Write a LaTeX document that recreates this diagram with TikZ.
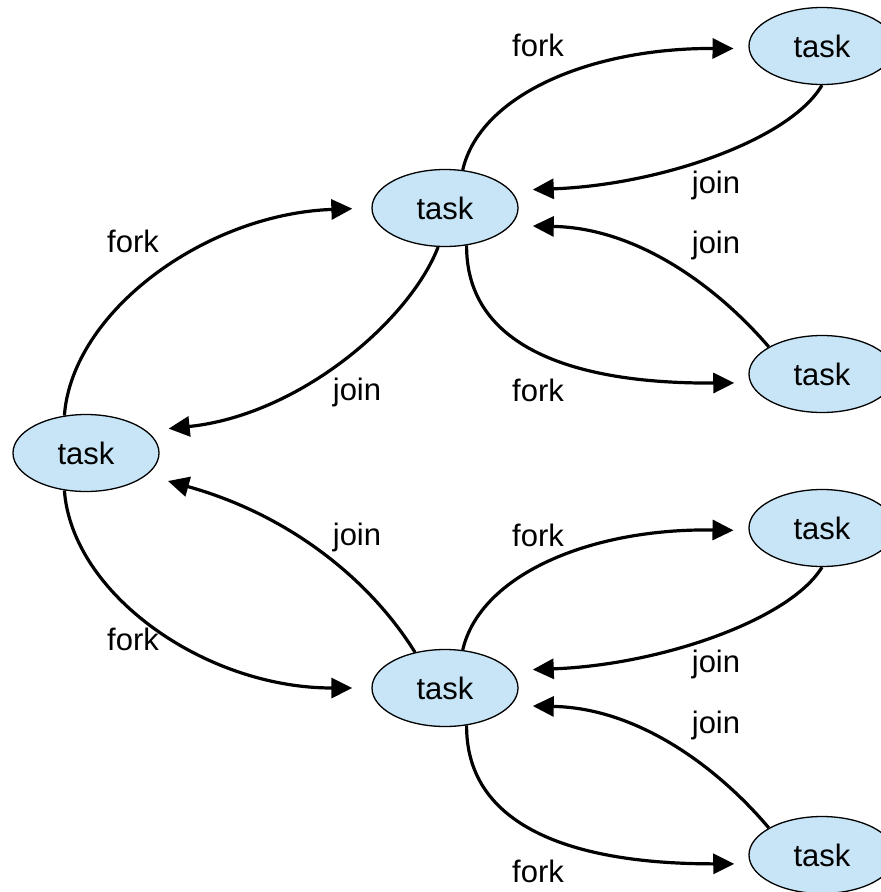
\documentclass[tikz,border=0pt]{standalone}
\usepackage{fontspec}
\setmainfont{Liberation Sans}
\usetikzlibrary{arrows.meta,shapes.geometric}
\definecolor{taskfill}{RGB}{199,229,246}
\begin{document}
\begin{tikzpicture}[x=1pt,y=-1pt,
  task/.style={ellipse,draw,line width=1.3pt,fill=taskfill,minimum width=146pt,minimum height=77pt,inner sep=0pt,font=\fontsize{31}{36}\selectfont},
  lbl/.style={font=\fontsize{31}{36}\selectfont,inner sep=0pt,anchor=base},
  conn/.style={line width=3.2pt,-{Triangle[length=21pt,width=20pt]}}]
\useasboundingbox (0,0) rectangle (881,892);
% tasks
\node[task] (l)  at (86,453) {task};
\node[task] (mt) at (445,208) {task};
\node[task] (mb) at (445,688) {task};
\node[task] (tr) at (822,46) {task};
\node[task] (rm) at (822,374) {task};
\node[task] (r3) at (822,528) {task};
\node[task] (r4) at (822,855) {task};
% left group
\draw[conn, shorten >=19pt] (l.120) .. controls (72,312) and (205,214) .. (mt.west);
\draw[conn, shorten >=22pt] (mt.-100) .. controls (410,320) and (300,415) .. (l.20);
\draw[conn, shorten >=22pt] (mb.130) .. controls (370,580) and (290,515) .. (l.-20);
\draw[conn, shorten >=19pt] (l.-120) .. controls (72,594) and (205,688) .. (mb.west);
% top right group
\draw[conn, shorten >=15pt] (mt.65) .. controls (480,95) and (590,48) .. (tr.182);
\draw[conn, shorten >=22pt] (tr.south) .. controls (790,140) and (660,185) .. (mt.15);
\draw[conn, shorten >=22pt] (rm.153) .. controls (720,290) and (640,228) .. (mt.-15);
\draw[conn, shorten >=16pt] (mt.-60) .. controls (466,340) and (560,384) .. (rm.187);
% bottom right group
\draw[conn, shorten >=15pt] (mb.65) .. controls (480,575) and (590,528) .. (r3.182);
\draw[conn, shorten >=22pt] (r3.south) .. controls (790,620) and (660,665) .. (mb.15);
\draw[conn, shorten >=22pt] (r4.153) .. controls (720,770) and (640,708) .. (mb.-15);
\draw[conn, shorten >=16pt] (mb.-60) .. controls (466,820) and (560,864) .. (r4.187);
% labels
\node[lbl] (f1) at (538,56) {fork};
\node[lbl] (j1) at (716,193) {join};
\node[lbl] (j2) at (716,253) {join};
\node[lbl] (f2) at (538,401) {fork};
\node[lbl] (f3) at (133,252) {fork};
\node[lbl] (j3) at (357,400) {join};
\node[lbl] (j4) at (357,545) {join};
\node[lbl] (f4) at (133,650) {fork};
\node[lbl] (f5) at (538,546) {fork};
\node[lbl] (j5) at (716,672) {join};
\node[lbl] (j6) at (716,733) {join};
\node[lbl] (f6) at (538,882) {fork};
\end{tikzpicture}
\end{document}
